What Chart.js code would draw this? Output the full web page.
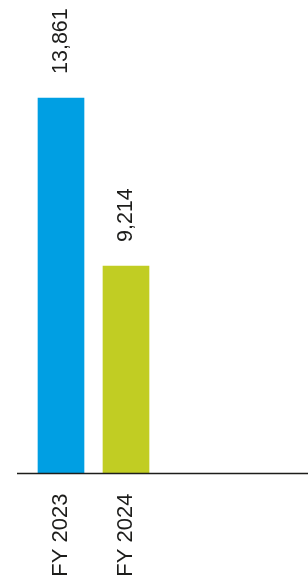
<!DOCTYPE html>
<html>
<head>
<meta charset="utf-8">
<script src="https://cdn.jsdelivr.net/npm/chart.js@4"></script>
<style>
  html, body { margin: 0; padding: 0; background: #fff; }
  #wrap { width: 308px; height: 580px; }
</style>
</head>
<body>
<div id="wrap"><canvas id="chart"></canvas></div>
<script>
const years = ["FY 2023", "FY 2024"];
const values = [13861, 9214];
const barColors = ["#009fe3", "#c1cd23"];
// axis bounds (the bars are not drawn from zero)
const yMin = 3475;
const yMax = 16572;

const FONT = "'Liberation Sans', Arial, sans-serif";
const TEXT = "#1d1d1b";

// values written above each bar, rotated
const valueLabels = {
  id: "valueLabels",
  afterDatasetsDraw(chart) {
    const { ctx } = chart;
    const meta = chart.getDatasetMeta(0);
    ctx.save();
    ctx.fillStyle = TEXT;
    ctx.font = "21.5px " + FONT;
    ctx.textAlign = "left";
    ctx.textBaseline = "middle";
    meta.data.forEach((bar, i) => {
      ctx.save();
      ctx.translate(bar.x, bar.y - 24);
      ctx.rotate(-Math.PI / 2);
      ctx.fillText(values[i].toLocaleString("en-US"), 0, 0);
      ctx.restore();
    });
    ctx.restore();
  },
};

// baseline running to the right edge
const baseLine = {
  id: "baseLine",
  afterDatasetsDraw(chart) {
    const { ctx } = chart;
    const y = chart.scales.y.getPixelForValue(yMin);
    ctx.save();
    ctx.strokeStyle = TEXT;
    ctx.lineWidth = 1.5;
    ctx.beginPath();
    ctx.moveTo(17, y);
    ctx.lineTo(chart.width, y);
    ctx.stroke();
    ctx.restore();
  },
};

new Chart(document.getElementById("chart").getContext("2d"), {
  type: "bar",
  data: {
    labels: years,
    datasets: [
      {
        data: values,
        backgroundColor: barColors,
        barThickness: 46,
      },
    ],
  },
  options: {
    responsive: true,
    maintainAspectRatio: false,
    animation: false,
    layout: { padding: { left: 28.5, right: 149.5, top: 0, bottom: 0 } },
    plugins: { legend: { display: false }, tooltip: { enabled: false } },
    scales: {
      x: {
        grid: { display: false, drawTicks: false },
        border: { display: false },
        ticks: {
          color: TEXT,
          font: { family: FONT, size: 22 },
          minRotation: 90,
          maxRotation: 90,
          padding: 20,
          autoSkip: false,
        },
        afterFit: (scale) => {
          scale.height = 106.5;
        },
      },
      y: {
        display: false,
        min: yMin,
        max: yMax,
      },
    },
  },
  plugins: [valueLabels, baseLine],
});
</script>
</body>
</html>
